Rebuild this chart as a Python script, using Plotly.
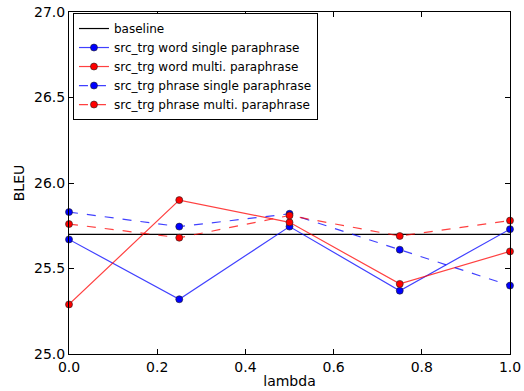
import plotly.graph_objects as go

lambdas = [0.0, 0.25, 0.5, 0.75, 1.0]
baseline = 25.70
word_single = [25.67, 25.32, 25.745, 25.37, 25.73]
word_multi = [25.29, 25.90, 25.77, 25.41, 25.60]
phrase_single = [25.83, 25.745, 25.82, 25.61, 25.40]
phrase_multi = [25.76, 25.68, 25.81, 25.69, 25.78]

series = [
    ("src_trg word single paraphrase", word_single, "rgba(0,0,255,0.75)", "#0000ff", "solid"),
    ("src_trg word multi. paraphrase", word_multi, "rgba(255,0,0,0.75)", "#ff0000", "solid"),
    ("src_trg phrase single paraphrase", phrase_single, "rgba(0,0,255,0.75)", "#0000ff", "dash"),
    ("src_trg phrase multi. paraphrase", phrase_multi, "rgba(255,0,0,0.75)", "#ff0000", "dash"),
]

fig = go.Figure()
fig.add_trace(go.Scatter(
    x=[lambdas[0], lambdas[-1]], y=[baseline, baseline], mode="lines",
    name="baseline", line=dict(color="black", width=1.2),
))
for name, vals, lc, mc, dash in series:
    fig.add_trace(go.Scatter(
        x=lambdas, y=vals, mode="lines+markers", name=name,
        line=dict(color=lc, width=1.2, dash=dash),
        marker=dict(color=mc, size=7, line=dict(color="#202020", width=0.6)),
        cliponaxis=False,
    ))

axis_common = dict(
    showgrid=False, zeroline=False, showline=True, linecolor="black", linewidth=1,
    mirror="ticks", ticks="inside", ticklen=5, tickcolor="black", automargin=False,
    tickfont=dict(family="DejaVu Sans", size=14, color="black"),
)
fig.update_xaxes(range=[0, 1], tickvals=[0, 0.2, 0.4, 0.6, 0.8, 1.0],
                 ticktext=["0.0", "0.2", "0.4", "0.6", "0.8", "1.0"],
                 title=dict(text="lambda", font=dict(family="DejaVu Sans", size=14, color="black"), standoff=2),
                 **axis_common)
fig.update_yaxes(range=[25.0, 27.0], tickvals=[25.0, 25.5, 26.0, 26.5, 27.0],
                 ticktext=["25.0", "25.5", "26.0", "26.5", "27.0"],
                 title=dict(text="BLEU", font=dict(family="DejaVu Sans", size=14, color="black"), standoff=6),
                 **axis_common)
fig.update_layout(
    width=524, height=391,
    margin=dict(l=69, r=14, t=12, b=37),
    plot_bgcolor="white", paper_bgcolor="white",
    font=dict(family="DejaVu Sans", color="black"),
    legend=dict(x=0.009, y=0.997, xanchor="left", yanchor="top",
                bordercolor="black", borderwidth=1, bgcolor="white",
                font=dict(family="DejaVu Sans", size=12, color="black"),
                tracegroupgap=0, itemwidth=30),
)
fig.write_html("out.html", config={"displayModeBar": False},
               post_script="document.body.style.margin='0';document.body.style.overflow='hidden';")
